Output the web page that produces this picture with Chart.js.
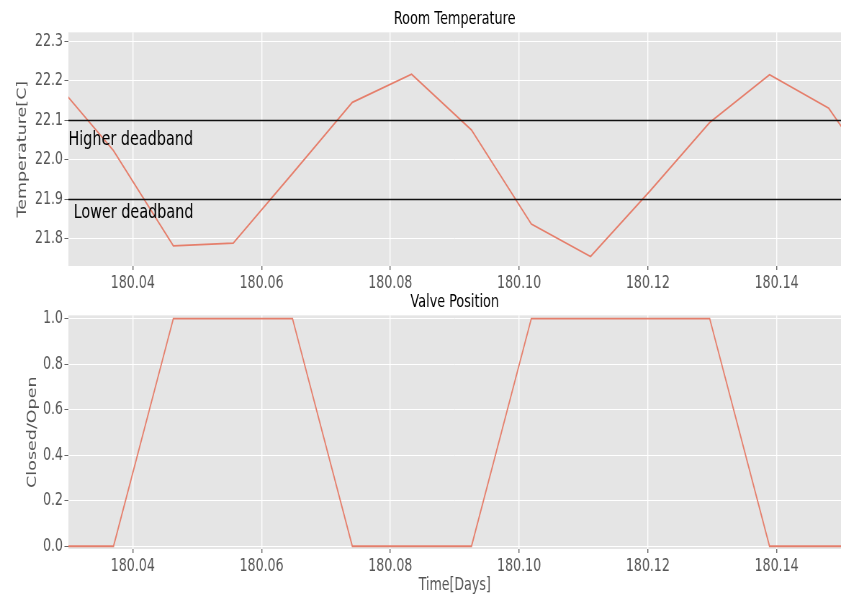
<!DOCTYPE html>
<html>
<head>
<meta charset="utf-8">
<script src="https://cdn.jsdelivr.net/npm/chart.js@4.4.1/dist/chart.umd.min.js"></script>
<style>
  body { margin: 0; background: #fff; overflow: hidden; }
  canvas { position: absolute; left: 0; }
</style>
</head>
<body>
<!-- drawn wide, then squeezed to 841px like the original figure -->
<canvas id="tempChart" width="1168" height="292" style="top:0;width:841px;height:292px"></canvas>
<canvas id="valveChart" width="1168" height="307" style="top:292px;width:841px;height:307px"></canvas>
<script>
// time in days, sampled every ~800 s
const timeDays = [180.0278, 180.0370, 180.0463, 180.0556, 180.0648, 180.0741, 180.0833,
  180.0926, 180.1019, 180.1111, 180.1204, 180.1296, 180.1389, 180.1481, 180.1574];
const roomTemp = [22.20, 22.023, 21.782, 21.789, 21.965, 22.145, 22.216,
  22.075, 21.837, 21.755, 21.922, 22.094, 22.215, 22.13, 21.91];
const valvePos = [0, 0, 1, 1, 1, 0, 0, 0, 1, 1, 1, 1, 0, 0, 0];

const deadbands = [22.1, 21.9];
const deadbandLabels = ["Higher deadband", "Lower deadband"];

const timeTicks = [180.04, 180.06, 180.08, 180.10, 180.12, 180.14];
const tempTicks = [21.8, 21.9, 22.0, 22.1, 22.2, 22.3];
const valveTicks = [0, 0.2, 0.4, 0.6, 0.8, 1.0];

const fontFam = "'DejaVu Sans', sans-serif";
const lineColor = "#E57F6C";

const panelBg = {
  id: "panelBg",
  beforeDraw(chart) {
    const { ctx, chartArea: a } = chart;
    ctx.save();
    ctx.fillStyle = "#E5E5E5";
    ctx.fillRect(a.left, a.top, a.right - a.left, a.bottom - a.top);
    ctx.restore();
  },
};

const deadbandLines = {
  id: "deadbandLines",
  afterDatasetsDraw(chart) {
    const { ctx, chartArea: a, scales } = chart;
    ctx.save();
    ctx.strokeStyle = "#111";
    ctx.lineWidth = 1.5;
    deadbands.forEach((v) => {
      const y = Math.round(scales.y.getPixelForValue(v)) + 0.5;
      ctx.beginPath();
      ctx.moveTo(a.left, y);
      ctx.lineTo(a.right, y);
      ctx.stroke();
    });
    // labels placed in data coordinates
    const spots = [[180.0300, 22.05], [180.0308, 21.866]];
    ctx.fillStyle = "#000";
    ctx.font = "20px " + fontFam;
    ctx.textBaseline = "middle";
    ctx.textAlign = "left";
    deadbandLabels.forEach((t, i) => {
      ctx.fillText(t, scales.x.getPixelForValue(spots[i][0]), scales.y.getPixelForValue(spots[i][1]));
    });
    ctx.restore();
  },
};

function xScale(axisHeight, title) {
  return {
    type: "linear",
    min: 180.03,
    max: 180.15,
    afterBuildTicks: (s) => { s.ticks = timeTicks.map((v) => ({ value: v })); },
    afterFit: (s) => { s.height = axisHeight; },
    ticks: {
      color: "#555",
      padding: 3,
      maxRotation: 0,
      font: { family: fontFam, size: 17.5 },
      callback: (v) => v.toFixed(2),
    },
    grid: { color: "#fff", lineWidth: 1.4, tickColor: "#666", tickLength: 4 },
    border: { display: false },
    title: title,
  };
}

function yScale(min, max, tickList, label, padTop) {
  return {
    min: min,
    max: max,
    afterBuildTicks: (s) => { s.ticks = tickList.map((v) => ({ value: v })); },
    afterFit: (s) => { s.width = 95; s.paddingTop = 0; s.paddingBottom = 0; },
    ticks: {
      color: "#555",
      padding: 2,
      font: { family: fontFam, size: 17.5 },
      callback: (v) => v.toFixed(1),
    },
    grid: { color: "#fff", lineWidth: 1, tickColor: "#666", tickLength: 5.5 },
    border: { display: false },
    title: {
      display: true,
      text: label,
      color: "#555",
      font: { family: fontFam, size: 17.5 },
      padding: { top: padTop, bottom: 0 },
    },
  };
}

function titleOpts(text, pad) {
  return {
    display: true,
    fullSize: false, // center over the plot area
    text: text,
    color: "#000",
    font: { family: fontFam, size: 17.8, weight: "normal" },
    padding: pad,
  };
}

new Chart(document.getElementById("tempChart"), {
  type: "line",
  data: {
    datasets: [{
      data: timeDays.map((t, i) => ({ x: t, y: roomTemp[i] })),
      borderColor: lineColor,
      borderWidth: 1.8,
      pointRadius: 0,
      tension: 0,
    }],
  },
  options: {
    responsive: false,
    animation: false,
    devicePixelRatio: 1,
    layout: { padding: 0 },
    plugins: {
      legend: { display: false },
      tooltip: { enabled: false },
      title: titleOpts("Room Temperature", { top: 8.5, bottom: 2.5 }),
    },
    scales: {
      x: xScale(26, { display: false }),
      y: yScale(21.731, 22.322, tempTicks, "Temperature[C]", 21.2),
    },
  },
  plugins: [panelBg, deadbandLines],
});

new Chart(document.getElementById("valveChart"), {
  type: "line",
  data: {
    datasets: [{
      data: timeDays.map((t, i) => ({ x: t, y: valvePos[i] })),
      borderColor: lineColor,
      borderWidth: 1.8,
      pointRadius: 0,
      tension: 0,
    }],
  },
  options: {
    responsive: false,
    animation: false,
    devicePixelRatio: 1,
    layout: { padding: 0 },
    plugins: {
      legend: { display: false },
      tooltip: { enabled: false },
      title: titleOpts("Valve Position", { top: 0.2, bottom: 1.8 }),
    },
    scales: {
      x: xScale(50, {
        display: true,
        text: "Time[Days]",
        color: "#555",
        font: { family: fontFam, size: 17.5 },
        padding: { top: 0, bottom: 3.5 },
      }),
      y: yScale(-0.012, 1.014, valveTicks, "Closed/Open", 34.6),
    },
  },
  plugins: [panelBg],
});
</script>
</body>
</html>
